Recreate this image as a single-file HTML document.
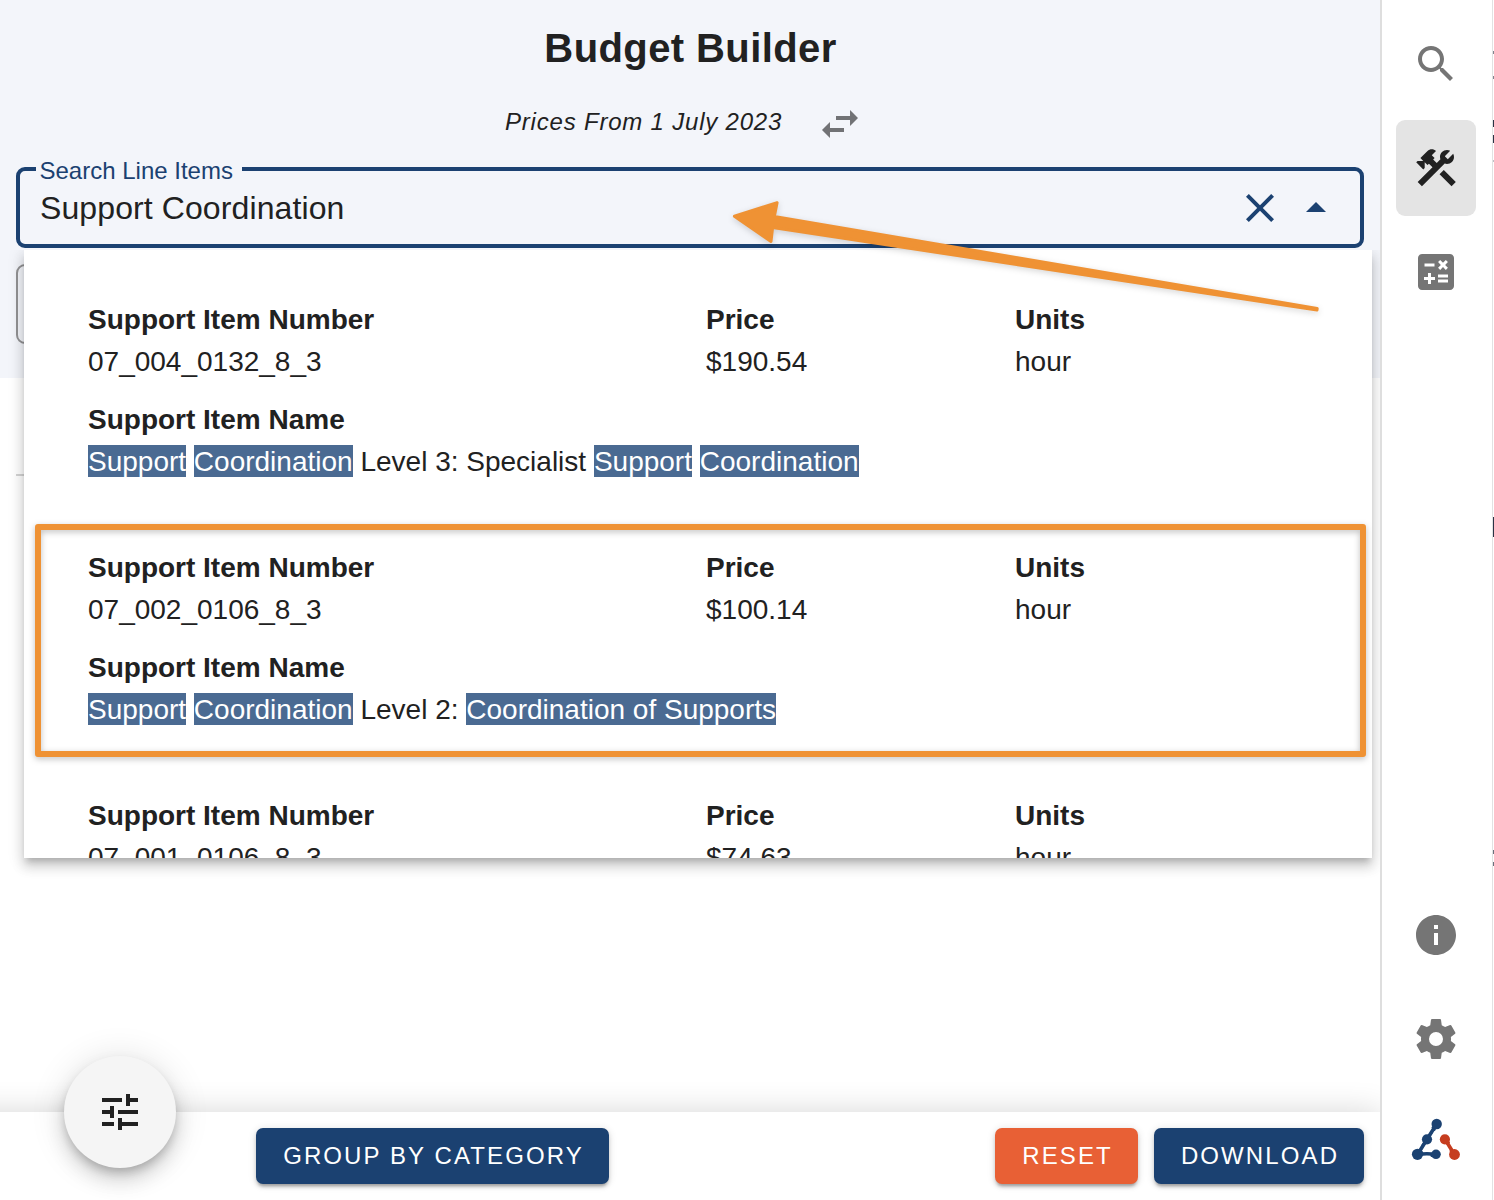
<!DOCTYPE html>
<html>
<head>
<meta charset="utf-8">
<title>Budget Builder</title>
<style>
*{box-sizing:border-box;margin:0;padding:0}
html,body{width:1494px;height:1200px;overflow:hidden;background:#fff}
body{font-family:"Liberation Sans",sans-serif;color:#212121;position:relative}
.abs{position:absolute}
.t{position:absolute;white-space:nowrap;line-height:42px;font-size:28px}
.b{font-weight:bold}
#hdr{left:0;top:0;width:1381px;height:378px;background:#f3f5fa}
#title{left:0;width:1381px;top:24px;text-align:center;font-size:40px;font-weight:bold;line-height:48px;letter-spacing:.4px}
#sub{left:505px;top:104px;font-size:24px;font-style:italic;line-height:36px;letter-spacing:.8px}
#field{left:16px;top:167px;width:1348px;height:81px;border:4px solid #1b4171;border-radius:9px}
#flabel{left:36px;top:154px;height:34px;padding:0 9px 0 3.500px;background:#f3f5fa;font-size:24px;line-height:34px;color:#1b4171}
#fval{left:40px;top:186.500px;font-size:32px;line-height:42px;letter-spacing:.1px}
#behind{left:16px;top:264px;width:200px;height:80px;border:2px solid #929294;border-radius:9px}
#hline{left:16px;top:474px;width:1348px;height:2px;background:#d4d4d4}
#menu{left:24px;top:250px;width:1348px;height:608px;background:#fff;overflow:hidden}
#menushadow{left:24px;top:250px;width:1348px;height:608px;clip-path:inset(0 -80px -80px -80px);box-shadow:0 6px 6px -3px rgba(0,0,0,.17),0 9px 11px 1px rgba(0,0,0,.125),0 3px 15px 2px rgba(0,0,0,.1)}
mark{background:#4a6a92;color:#fff;padding-top:1px}
#orect{left:35px;top:524.300px;width:1331px;height:233px;border:6px solid #ef9234;border-radius:3px;filter:drop-shadow(0 2px 3px rgba(0,0,0,.25))}
#side{left:1380px;top:0;width:114px;height:1200px;background:#fff;border-left:2px solid #dedede}
#sideR{left:1492px;top:0;width:1px;height:1200px;background:#e2e2e2}
.mk{position:absolute;left:1493px;width:1px;background:#2b3345}
#active{left:1396px;top:120px;width:80px;height:96px;border-radius:9px;background:#e4e4e4}
#bar{left:-40px;top:1112px;width:1421px;height:128px;background:#fff;box-shadow:0 0 30px rgba(0,0,0,.16)}
.btn{position:absolute;top:1128px;height:56px;border-radius:7px;color:#fff;font-size:24px;line-height:56px;text-align:center;letter-spacing:2.1px;padding-left:2px;white-space:nowrap;box-shadow:0 4px 3px -2px rgba(0,0,0,.24),0 3px 4px 0 rgba(0,0,0,.14),0 1px 8px 0 rgba(0,0,0,.12)}
.navy{background:#1b4171}
.red{background:#e86035}
#fab{left:64px;top:1056px;width:112px;height:112px;border-radius:56px;background:#f5f5f5;box-shadow:0 6px 10px -2px rgba(0,0,0,.2),0 12px 20px 0 rgba(0,0,0,.14),0 2px 36px 0 rgba(0,0,0,.12)}
svg{position:absolute;overflow:visible}
</style>
</head>
<body>
<div class="abs" id="hdr"></div>
<div class="abs" id="title">Budget Builder</div>
<div class="t" id="sub">Prices From 1 July 2023</div>
<svg style="left:816px;top:100px" width="48" height="48" viewBox="0 0 24 24"><path fill="#717275" d="M6.99 11 3 15l3.990 4v-3H14v-2H6.990v-3zM21 9l-3.990-4v3H10v2h7.010v3L21 9z"/></svg>

<div class="abs" id="behind"></div>
<div class="abs" id="hline"></div>

<div class="abs" id="field"></div>
<div class="t" id="flabel">Search Line Items</div>
<div class="t" id="fval">Support Coordination</div>
<svg style="left:1236px;top:184px" width="48" height="48" viewBox="0 0 24 24"><path fill="#1b4171" d="M19 6.410 17.590 5 12 10.590 6.410 5 5 6.410 10.590 12 5 17.590 6.410 19 12 13.410 17.590 19 19 17.590 13.410 12z"/></svg>
<svg style="left:1292px;top:184px" width="48" height="48" viewBox="0 0 24 24"><path fill="#1b4171" d="m7 14 5-5 5 5z"/></svg>

<div class="abs" id="menushadow"></div>
<div class="abs" id="menu">
  <div class="t b" style="left:64px;top:49px">Support Item Number</div>
  <div class="t" style="left:64px;top:91px">07_004_0132_8_3</div>
  <div class="t b" style="left:682px;top:49px">Price</div>
  <div class="t" style="left:682px;top:91px">$190.54</div>
  <div class="t b" style="left:991px;top:49px">Units</div>
  <div class="t" style="left:991px;top:91px">hour</div>
  <div class="t b" style="left:64px;top:149px">Support Item Name</div>
  <div class="t" style="left:64px;top:190.650px"><mark>Support</mark> <mark>Coordination</mark> Level 3: Specialist <mark>Support</mark> <mark>Coordination</mark></div>

  <div class="t b" style="left:64px;top:297px">Support Item Number</div>
  <div class="t" style="left:64px;top:339px">07_002_0106_8_3</div>
  <div class="t b" style="left:682px;top:297px">Price</div>
  <div class="t" style="left:682px;top:339px">$100.14</div>
  <div class="t b" style="left:991px;top:297px">Units</div>
  <div class="t" style="left:991px;top:339px">hour</div>
  <div class="t b" style="left:64px;top:397px">Support Item Name</div>
  <div class="t" style="left:64px;top:438.650px"><mark>Support</mark> <mark>Coordination</mark> Level 2: <mark>Coordination of Supports</mark></div>

  <div class="t b" style="left:64px;top:545px">Support Item Number</div>
  <div class="t" style="left:64px;top:587px">07_001_0106_8_3</div>
  <div class="t b" style="left:682px;top:545px">Price</div>
  <div class="t" style="left:682px;top:587px">$74.63</div>
  <div class="t b" style="left:991px;top:545px">Units</div>
  <div class="t" style="left:991px;top:587px">hour</div>
</div>

<div class="abs" id="orect"></div>
<svg style="left:0;top:0;filter:drop-shadow(0 2px 3px rgba(0,0,0,.16))" width="1494" height="1200" viewBox="0 0 1494 1200">
  <path d="M734.4 216.3 L771.0 241.5 L772.6 227.5 L1317 310.100 L1317.200 308.500 L774.3 216.6 L777.1 202.6 Z" fill="#ef9234" stroke="#ef9234" stroke-width="3" stroke-linejoin="round"/>
</svg>

<div class="abs" id="bar"></div>
<div class="abs" id="side"></div>
<div class="abs" id="sideR"></div>
<div class="mk" style="top:51px;height:3px;opacity:.6"></div>
<div class="mk" style="top:76px;height:3px;opacity:.6"></div>
<div class="mk" style="top:120px;height:7px"></div>
<div class="mk" style="top:135px;height:8px"></div>
<div class="mk" style="top:160px;height:2px;opacity:.3"></div>
<div class="mk" style="top:517px;height:20px"></div>
<div class="mk" style="top:850px;height:4px;opacity:.7"></div>
<div class="mk" style="top:862px;height:4px;opacity:.7"></div>
<div class="abs" id="active"></div>

<svg style="left:1412px;top:40px" width="48" height="48" viewBox="0 0 24 24"><path fill="#757575" d="M15.5 14h-.79l-.28-.27C15.41 12.59 16 11.11 16 9.5 16 5.91 13.09 3 9.5 3S3 5.91 3 9.5 5.91 16 9.5 16c1.61 0 3.09-.59 4.230-1.570l.270.280v.790l5 4.990L20.490 19l-4.990-5zm-6 0C7.010 14 5 11.990 5 9.500S7.010 5 9.500 5 14 7.010 14 9.500 11.990 14 9.500 14z"/></svg>
<svg style="left:1412px;top:144px" width="48" height="48" viewBox="0 0 24 24"><path fill="#212121" d="M13.783 15.172l2.121-2.121 5.996 5.996-2.121 2.121zM17.500 10c1.930 0 3.500-1.570 3.500-3.500 0-.580-.160-1.120-.410-1.600l-2.700 2.700-1.490-1.490 2.700-2.700c-.480-.250-1.020-.410-1.600-.410C15.570 3 14 4.570 14 6.500c0 .410.080.800.210 1.160l-1.850 1.850-1.780-1.780.710-.710-1.410-1.410L12 3.490c-1.170-1.170-3.070-1.170-4.240 0L4.220 7.030l1.410 1.410H2.810l-.710.710 3.540 3.540.710-.710V9.150l1.410 1.410.710-.710 1.780 1.780-7.410 7.410 2.120 2.120L16.340 9.790c.360.130.750.210 1.160.210z"/></svg>
<svg style="left:1412px;top:248px" width="48" height="48" viewBox="0 0 24 24"><path fill="#757575" d="M19 3H5c-1.100 0-2 .9-2 2v14c0 1.100.9 2 2 2h14c1.100 0 2-.9 2-2V5c0-1.100-.9-2-2-2zm-5.970 4.060L14.090 6l1.410 1.410L16.910 6l1.060 1.060-1.410 1.410 1.410 1.410-1.060 1.060-1.410-1.400-1.410 1.410-1.060-1.060 1.410-1.410-1.410-1.420zm-6.780.66h5v1.500h-5v-1.500zM11.500 16h-2v2H8v-2H6v-1.500h2v-2h1.500v2h2V16zm6.500 1.250h-5v-1.500h5v1.500zm0-2.500h-5v-1.500h5v1.500z"/></svg>
<svg style="left:1412px;top:911px" width="48" height="48" viewBox="0 0 24 24"><path fill="#757575" d="M12 2C6.480 2 2 6.480 2 12s4.480 10 10 10 10-4.480 10-10S17.520 2 12 2zm1 15h-2v-6h2v6zm0-8h-2V7h2v2z"/></svg>
<svg style="left:1412px;top:1015px" width="48" height="48" viewBox="0 0 24 24"><path fill="#757575" d="M12,15.5A3.5,3.5 0 0,1 8.5,12A3.5,3.5 0 0,1 12,8.5A3.5,3.5 0 0,1 15.5,12A3.5,3.5 0 0,1 12,15.5M19.430,12.970C19.470,12.650 19.500,12.330 19.500,12C19.500,11.670 19.470,11.340 19.430,11L21.540,9.370C21.730,9.220 21.780,8.950 21.660,8.730L19.660,5.270C19.540,5.050 19.270,4.960 19.050,5.050L16.560,6.050C16.040,5.660 15.500,5.320 14.870,5.070L14.500,2.420C14.460,2.180 14.250,2 14,2H10C9.750,2 9.540,2.180 9.500,2.420L9.130,5.070C8.500,5.320 7.960,5.660 7.440,6.050L4.950,5.050C4.730,4.960 4.460,5.050 4.340,5.270L2.340,8.730C2.210,8.950 2.270,9.220 2.460,9.370L4.570,11C4.530,11.340 4.500,11.670 4.500,12C4.500,12.330 4.530,12.650 4.570,12.970L2.460,14.630C2.270,14.780 2.210,15.050 2.340,15.270L4.340,18.730C4.460,18.950 4.730,19.030 4.950,18.950L7.440,17.940C7.960,18.340 8.500,18.680 9.130,18.930L9.500,21.580C9.540,21.820 9.750,22 10,22H14C14.250,22 14.460,21.820 14.500,21.580L14.870,18.930C15.500,18.670 16.040,18.340 16.560,17.940L19.050,18.950C19.270,19.030 19.540,18.950 19.660,18.730L21.660,15.270C21.780,15.050 21.730,14.780 21.540,14.630L19.430,12.970Z"/></svg>
<svg style="left:0;top:0" width="1494" height="1200" viewBox="0 0 1494 1200">
  <g stroke="#1b4272" stroke-width="3.600" stroke-linecap="round" fill="#1b4272">
    <path d="M1436.700 1124 L1427 1139.300 L1417.700 1154.300" fill="none"/>
    <path d="M1417.700 1154.800 Q1427 1152.600 1436 1154.800" fill="none" stroke-width="3.600"/>
    <path d="M1432.500 1127.500 L1436.700 1124 L1434.500 1130 Z M1430 1134.500 L1427 1139.300 L1431.500 1133.500 Z M1424.500 1144 L1427 1139.300 L1422.500 1145 Z M1420.500 1150 L1417.700 1154.300 L1423 1154.300 Z M1431 1154 L1436 1154.300 L1431.500 1156 Z" stroke-width="2" stroke-linejoin="round"/>
    <circle cx="1436.700" cy="1124" r="5.200" stroke="none"/>
    <circle cx="1427" cy="1139.300" r="5.100" stroke="none"/>
    <circle cx="1417.500" cy="1154.300" r="5.600" stroke="none"/>
    <circle cx="1436" cy="1154.300" r="4.800" stroke="none"/>
  </g>
  <g stroke="#c63d1f" stroke-width="3.600" stroke-linecap="round" fill="#c63d1f">
    <path d="M1445 1139.300 L1454.300 1154.300" fill="none"/>
    <path d="M1447 1143.500 L1445 1139.300 L1449 1142.500 Z M1452 1150 L1454.300 1154.300 L1450.500 1151 Z" stroke-width="2" stroke-linejoin="round"/>
    <circle cx="1444.900" cy="1139.300" r="5.100" stroke="none"/>
    <circle cx="1454.500" cy="1154.500" r="5.400" stroke="none"/>
  </g>
</svg>

<div class="btn navy" style="left:256px;width:353px">GROUP BY CATEGORY</div>
<div class="btn red" style="left:995px;width:143px">RESET</div>
<div class="btn navy" style="left:1154px;width:210px">DOWNLOAD</div>
<div class="abs" id="fab"></div>
<svg style="left:96px;top:1088px" width="48" height="48" viewBox="0 0 24 24"><path fill="#212121" d="M3 17v2h6v-2H3zM3 5v2h10V5H3zm10 16v-2h8v-2h-8v-2h-2v6h2zM7 9v2H3v2h4v2h2V9H7zm14 4v-2H11v2h10zm-6-4h2V7h4V5h-4V3h-2v6z"/></svg>
</body>
</html>
